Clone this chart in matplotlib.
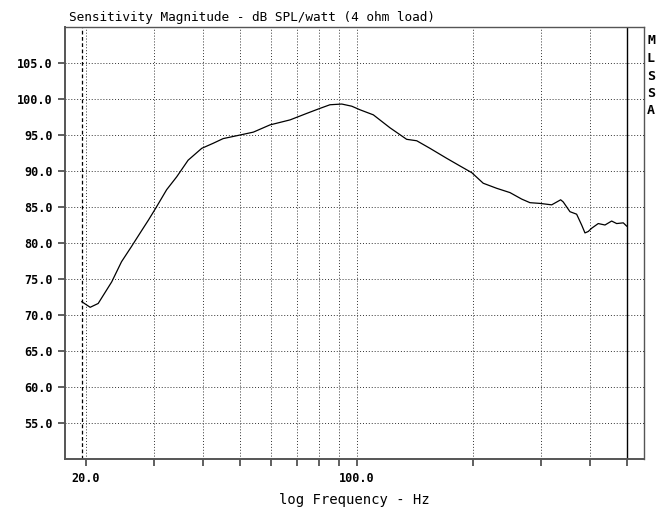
import matplotlib
matplotlib.use("Agg")
import matplotlib.pyplot as plt
from matplotlib.ticker import FixedLocator, NullLocator

# Sensitivity curve (Hz, dB SPL/watt)
freq = [19.5, 20.5, 21.5, 23.3, 24.7, 26.2, 27.9, 29.0, 30.4, 32.3,
        34.3, 36.7, 39.8, 42.6, 45.2, 50.0, 54.1, 59.7, 67.3, 74.3,
        80.4, 85.3, 91.5, 97.1, 102, 110.4, 121.9, 134.6, 142.9, 154.6,
        170.8, 184.8, 198.2, 212.2, 229.8, 248.8, 266.7, 280.2, 297.3, 318.8,
        336.3, 341.5, 355.4, 369.8, 381.0, 388.6, 396.3, 404.4, 420.5, 437.7,
        455.4, 469.2, 488.0, 497.8]
spl = [71.85, 71.07, 71.6, 74.6, 77.4, 79.5, 81.8, 83.2, 85.0, 87.4,
       89.2, 91.5, 93.15, 93.85, 94.5, 95.0, 95.4, 96.4, 97.1, 98.0,
       98.7, 99.2, 99.3, 99.0, 98.5, 97.8, 96.0, 94.4, 94.2, 93.15,
       91.76, 90.7, 89.77, 88.3, 87.6, 87.0, 86.1, 85.6, 85.5, 85.3,
       86.0, 85.7, 84.35, 84.0, 82.5, 81.4, 81.6, 82.05, 82.7, 82.5,
       83.05, 82.7, 82.8, 82.35]

x_ticks = [20, 30, 40, 50, 60, 70, 80, 90, 100, 200, 300, 400, 500]
x_labels = ["20.0", "", "", "", "", "", "", "", "100.0", "", "", "", ""]
y_ticks = [55, 60, 65, 70, 75, 80, 85, 90, 95, 100, 105]
marker_lo = 19.5
marker_hi = 500

fig = plt.figure(figsize=(6.57, 5.09), dpi=100)
ax = fig.add_axes([65 / 657, 50 / 509, 579 / 657, 432 / 509])

ax.set_xscale("log")
ax.set_xlim(17.65, 552)
ax.set_ylim(50, 110)

ax.xaxis.set_major_locator(FixedLocator(x_ticks))
ax.xaxis.set_minor_locator(NullLocator())
ax.set_xticklabels(x_labels)
ax.set_yticks(y_ticks)
ax.set_yticklabels(["%.1f" % v for v in y_ticks])

ax.grid(True, color="#333333", linestyle=(0, (1, 2)), linewidth=0.7)
ax.axvline(marker_lo, color="black", linestyle=(0, (3, 2)), linewidth=0.9)
ax.axvline(marker_hi, color="black", linewidth=1.0)

ax.plot(freq, spl, color="black", linewidth=0.9)

for s in ["left", "bottom"]:
    ax.spines[s].set_color("#555555")
    ax.spines[s].set_linewidth(1.4)
for s in ["top", "right"]:
    ax.spines[s].set_color("#555555")
    ax.spines[s].set_linewidth(1.0)

ax.tick_params(axis="both", direction="out", length=5, width=1.2,
               color="#444444", labelsize=8.5, pad=4)
for lab in ax.get_xticklabels() + ax.get_yticklabels():
    lab.set_family("DejaVu Sans Mono")
    lab.set_fontweight("bold")

ax.set_xlabel("log Frequency - Hz", family="DejaVu Sans Mono", fontsize=10,
              labelpad=6)
fig.text(69 / 657, 1 - 17 / 509, "Sensitivity Magnitude - dB SPL/watt (4 ohm load)",
         family="DejaVu Sans Mono", fontsize=9.2, ha="left", va="center")

for i, ch in enumerate("MLSSA"):
    fig.text(651 / 657, 1 - (41 + i * 17.5) / 509, ch, family="DejaVu Sans Mono",
             fontweight="bold", fontsize=9.5, ha="center", va="center")

fig.savefig("out.png", dpi=100)
